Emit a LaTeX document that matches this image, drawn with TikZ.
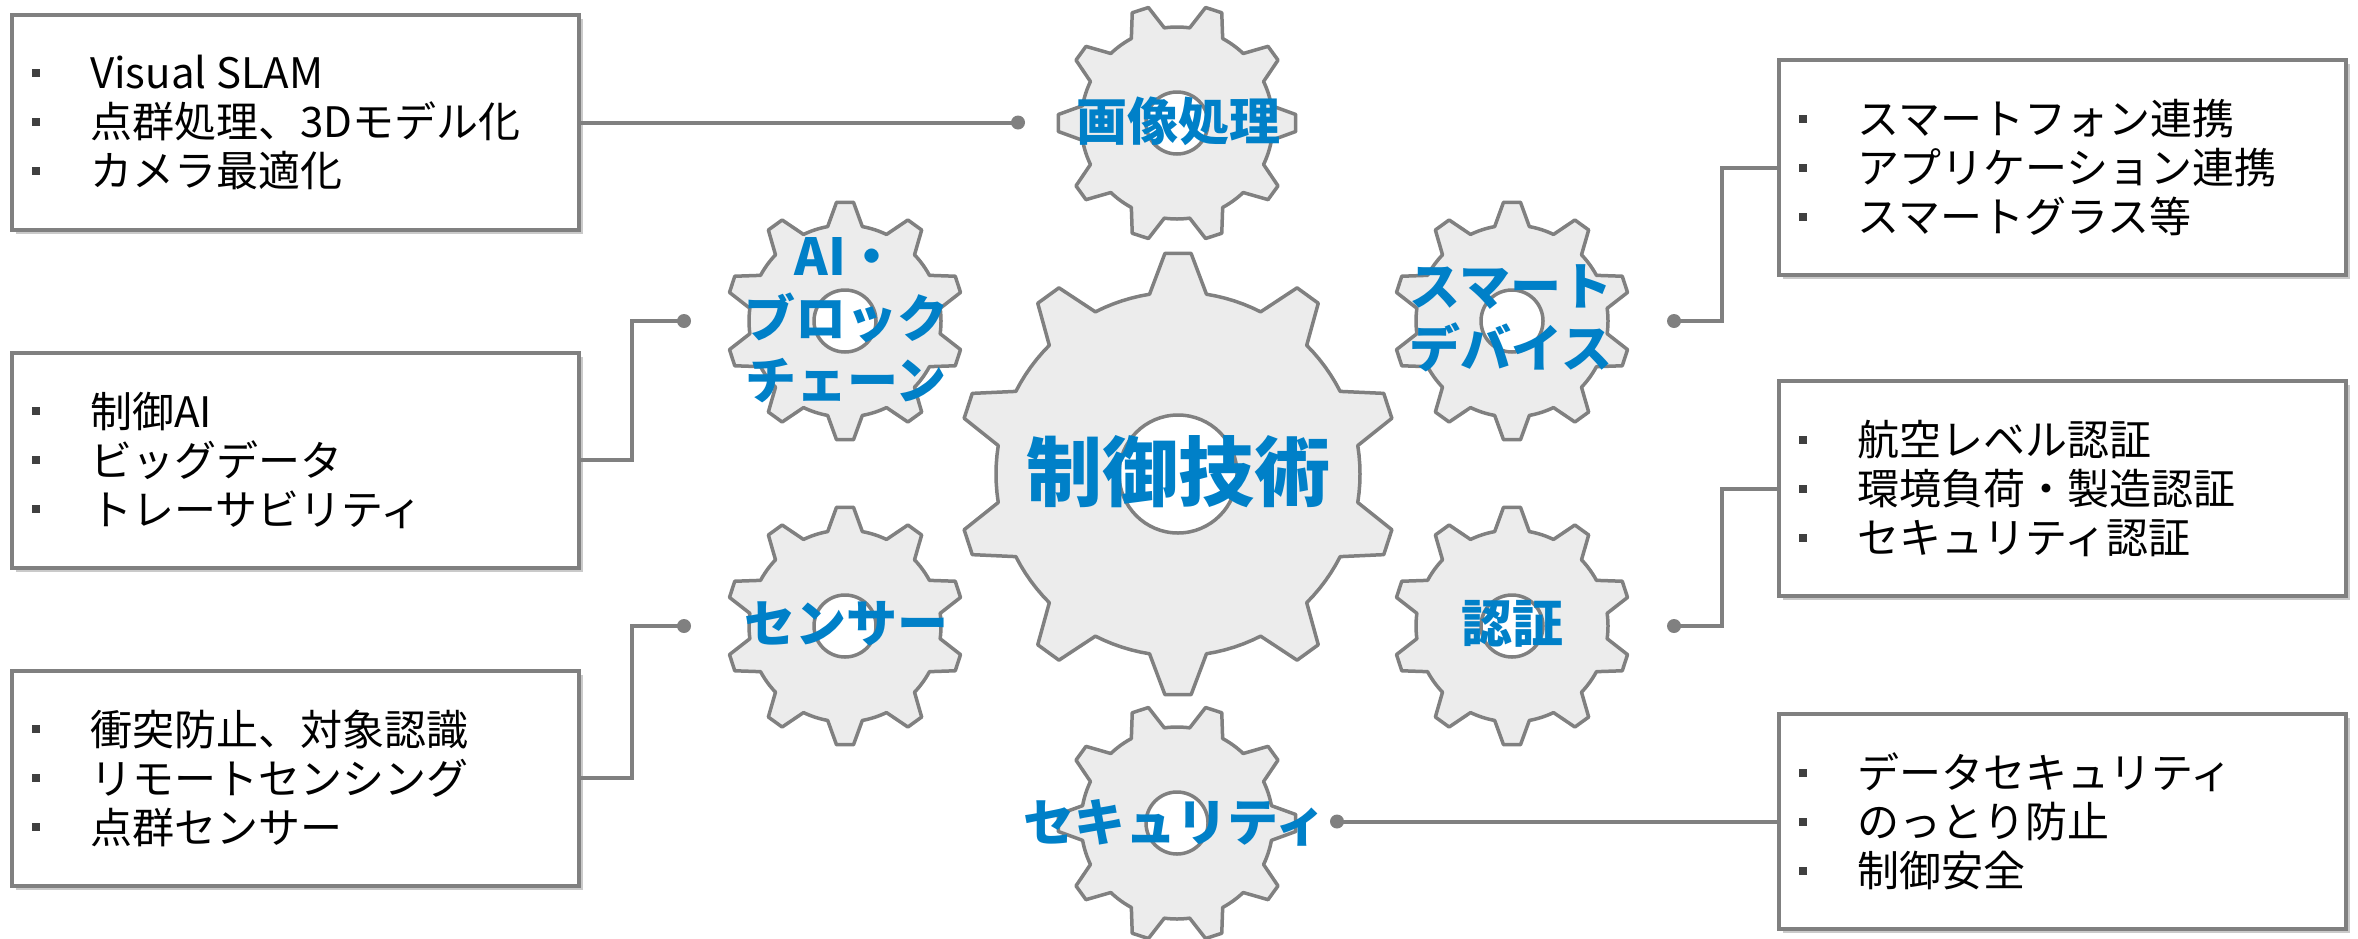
\documentclass[tikz,border=0pt]{standalone}
\usepackage{fontspec}
\setmainfont{Noto Sans CJK JP}
\usetikzlibrary{calc,shadows}
\definecolor{gearfill}{RGB}{236,236,236}
\definecolor{gearline}{RGB}{128,128,128}
\definecolor{lblue}{RGB}{0,128,200}
\definecolor{bulgray}{RGB}{64,64,64}
\newcommand\bul{\makebox[58pt][l]{\raisebox{12pt}{\textcolor{bulgray}{\rule{8pt}{8pt}}}}}
\begin{document}
\begin{tikzpicture}[x=1pt,y=-1pt,
  box/.style={draw=gearline, line width=4pt, fill=white, minimum width=567pt,
    minimum height=215pt, inner sep=0pt,
    drop shadow={shadow xshift=4pt, shadow yshift=-4pt, opacity=0.35, fill=black!60}},
  listtext/.style={anchor=west, align=left, inner sep=0pt,
    font=\fontsize{42}{49}\selectfont, text=black},
  conn/.style={draw=gearline, line width=4pt},
  dotstyle/.style={fill=gearline},
  gearshape/.style={draw=gearline, fill=gearfill, line width=3.5pt, line join=round},
  lbl/.style={text=lblue, align=center, inner sep=0pt},
  lblsmall/.style={font=\fontsize{51}{62}\selectfont\bfseries},
  lblbig/.style={font=\fontsize{76}{90}\selectfont\bfseries},
  pics/gear/.style n args={6}{code={
    \draw[gearshape] ({#3-#5}:#2)
      \foreach \k in {0,...,9}{
        -- ({#3+36*\k-#5}:#2) -- ({#3+36*\k-#4}:#1) -- ({#3+36*\k+#4}:#1) -- ({#3+36*\k+#5}:#2)
        \foreach \j in {1,...,5}{ -- ({#3+36*\k+#5+\j*(36-2*#5)/6}:#2) }
      } -- cycle;
    \draw[gearshape, fill=white] (0,0) circle[radius=#6];
  }}
]
\useasboundingbox (0,0) rectangle (2358,938);
\clip (0,0) rectangle (2358,938);

% boxes
\node[box] (boxA) at (295.5,122.5) {};
\node[box] (boxB) at (295.5,460) {};
\node[box] (boxC) at (295.5,778) {};
\node[box] (boxD) at (2062.5,167.5) {};
\node[box] (boxE) at (2062.5,488.5) {};
\node[box] (boxF) at (2062.5,821.5) {};

\node[listtext] (tA) at ($(boxA.west)+(22,0)$) {\bul Visual SLAM\\\bul 点群処理、3Dモデル化\\\bul カメラ最適化};
\node[listtext] (tB) at ($(boxB.west)+(22,0)$) {\bul 制御AI\\\bul ビッグデータ\\\bul トレーサビリティ};
\node[listtext] (tC) at ($(boxC.west)+(22,0)$) {\bul 衝突防止、対象認識\\\bul リモートセンシング\\\bul 点群センサー};
\node[listtext] (tD) at ($(boxD.west)+(22,0)$) {\bul スマートフォン連携\\\bul アプリケーション連携\\\bul スマートグラス等};
\node[listtext] (tE) at ($(boxE.west)+(22,0)$) {\bul 航空レベル認証\\\bul 環境負荷・製造認証\\\bul セキュリティ認証};
\node[listtext] (tF) at ($(boxF.west)+(22,0)$) {\bul データセキュリティ\\\bul のっとり防止\\\bul 制御安全};

% connector end points
\coordinate (dA) at (1018,122.5);
\coordinate (dB) at (684,321);
\coordinate (dC) at (684,626);
\coordinate (dD) at (1674,321);
\coordinate (dE) at (1674,626);
\coordinate (dF) at (1337,821.5);

\draw[conn] (boxA.east) -- (dA);
\draw[conn] (boxB.east) -- ++(51,0) |- (dB);
\draw[conn] (boxC.east) -- ++(51,0) |- (dC);
\draw[conn] (boxD.west) -- ++(-55,0) |- (dD);
\draw[conn] (boxE.west) -- ++(-55,0) |- (dE);
\draw[conn] (boxF.west) -- (dF);
\foreach \d in {dA,dB,dC,dD,dE,dF}{ \fill[dotstyle] (\d) circle[radius=7pt]; }

% gears
\pic (gC) at (1178,474) {gear={221}{182}{90}{3.4}{9}{59pt}};
\pic (g1) at (1177,123) {gear={119}{96}{0}{4.1}{10.4}{31pt}};
\pic (g2) at (845,321) {gear={119}{96}{90}{4.1}{10.4}{31pt}};
\pic (g3) at (1512,321) {gear={119}{96}{90}{4.1}{10.4}{31pt}};
\pic (g4) at (845,626) {gear={119}{96}{90}{4.1}{10.4}{31pt}};
\pic (g5) at (1512,626) {gear={119}{96}{90}{4.1}{10.4}{31pt}};
\pic (g6) at (1177,823) {gear={119}{96}{0}{4.1}{10.4}{31pt}};

% labels
\node[lbl,lblbig] (lC) at (1178,472) {制御技術};
\node[lbl,lblsmall] (l1) at (1178,121) {画像処理};
\node[lbl,lblsmall] (l2) at (846,320) {AI・\\ブロック\\チェーン};
\node[lbl,lblsmall] (l3) at (1511,318) {スマート\\デバイス};
\node[lbl,lblsmall] (l4) at (846,624) {センサー};
\node[lbl,lblsmall] (l5) at (1512,624) {認証};
\node[lbl,lblsmall] (l6) at (1175,823) {セキュリティ};
\end{tikzpicture}
\end{document}
